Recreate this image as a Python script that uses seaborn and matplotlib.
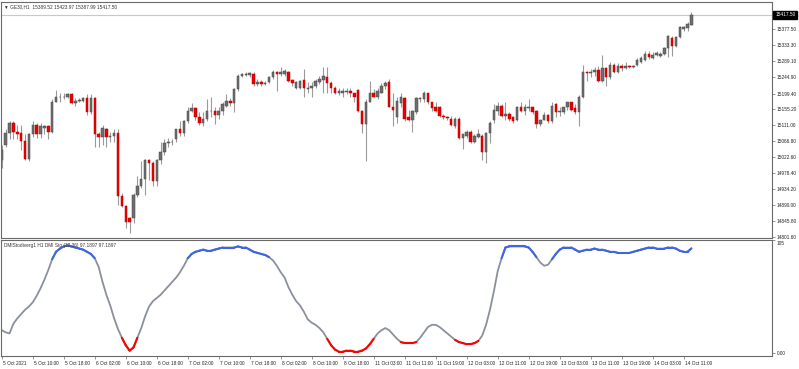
import numpy as np
import pandas as pd
import matplotlib
matplotlib.use("Agg")
import matplotlib.pyplot as plt
import matplotlib.transforms as mtrans
from matplotlib.collections import LineCollection
import seaborn as sns

# ---------------- data (GE30, H1) ----------------
opens = [15016, 15058, 15091, 15119, 15094, 15091, 15069, 15019, 15086, 15111,
         15088, 15105, 15108, 15094, 15177, 15189, 15189, 15191, 15197, 15172,
         15180, 15180, 15186, 15147, 15186, 15088, 15080, 15102, 15080, 15083,
         15091, 14916, 14888, 14855, 14855, 14919, 14944, 14963, 15016, 15008,
         14958, 15016, 15036, 15063, 15064, 15072, 15100, 15091, 15122, 15152,
         15158, 15133, 15119, 15130, 15150, 15152, 15141, 15152, 15166, 15180,
         15172, 15211, 15247, 15250, 15250, 15253, 15225, 15230, 15225, 15230,
         15244, 15258, 15253, 15253, 15258, 15236, 15216, 15216, 15236, 15211,
         15214, 15219, 15230, 15236, 15244, 15228, 15216, 15202, 15202, 15203,
         15205, 15200, 15208, 15150, 15116, 15177, 15202, 15191, 15202, 15219,
         15230, 15161, 15133, 15172, 15186, 15133, 15127, 15147, 15183, 15183,
         15200, 15175, 15163, 15163, 15138, 15133, 15130, 15108, 15130, 15075,
         15083, 15094, 15066, 15080, 15083, 15036, 15091, 15127, 15152, 15166,
         15136, 15144, 15133, 15127, 15163, 15152, 15158, 15161, 15150, 15116,
         15127, 15141, 15122, 15169, 15147, 15147, 15161, 15175, 15158, 15147,
         15191, 15258, 15255, 15258, 15264, 15233, 15269, 15244, 15278, 15258,
         15275, 15269, 15275, 15272, 15278, 15286, 15291, 15308, 15297, 15305,
         15303, 15308, 15325, 15353, 15330, 15355, 15378, 15380, 15389.52]
highs = [15058, 15100, 15122, 15122, 15111, 15111, 15086, 15091, 15122, 15119,
         15119, 15113, 15113, 15183, 15208, 15202, 15202, 15202, 15202, 15186,
         15186, 15191, 15197, 15197, 15189, 15094, 15113, 15105, 15094, 15100,
         15100, 14924, 14891, 14858, 14924, 14972, 15011, 15019, 15019, 15011,
         15019, 15066, 15072, 15077, 15072, 15102, 15122, 15127, 15163, 15172,
         15161, 15147, 15147, 15183, 15189, 15163, 15161, 15177, 15197, 15186,
         15214, 15253, 15255, 15258, 15258, 15258, 15239, 15236, 15233, 15247,
         15264, 15261, 15272, 15266, 15261, 15239, 15233, 15236, 15266, 15230,
         15230, 15239, 15247, 15272, 15272, 15233, 15219, 15214, 15216, 15216,
         15216, 15202, 15211, 15155, 15183, 15233, 15211, 15216, 15228, 15233,
         15239, 15202, 15189, 15202, 15189, 15155, 15155, 15189, 15191, 15205,
         15202, 15177, 15175, 15166, 15144, 15136, 15136, 15133, 15133, 15088,
         15097, 15097, 15086, 15100, 15086, 15094, 15122, 15169, 15175, 15169,
         15175, 15147, 15136, 15166, 15177, 15169, 15183, 15163, 15155, 15127,
         15147, 15144, 15177, 15172, 15163, 15163, 15177, 15177, 15169, 15194,
         15278, 15261, 15266, 15272, 15275, 15305, 15272, 15286, 15283, 15283,
         15280, 15286, 15278, 15278, 15297, 15303, 15316, 15316, 15314, 15316,
         15314, 15328, 15361, 15358, 15358, 15386, 15386, 15397, 15423.97]
lows = [14994, 15052, 15072, 15072, 15072, 15044, 15016, 15011, 15080, 15077,
        15077, 15086, 15072, 15091, 15175, 15177, 15183, 15186, 15169, 15166,
        15177, 15177, 15141, 15144, 15052, 15052, 15058, 15050, 15066, 15066,
        14891, 14886, 14827, 14813, 14841, 14913, 14938, 14919, 14961, 14944,
        14944, 15005, 15030, 15052, 15058, 15066, 15083, 15083, 15119, 15147,
        15127, 15111, 15108, 15122, 15133, 15116, 15130, 15141, 15163, 15166,
        15147, 15205, 15244, 15247, 15244, 15219, 15219, 15219, 15222, 15228,
        15239, 15205, 15247, 15247, 15230, 15219, 15211, 15211, 15189, 15202,
        15189, 15216, 15225, 15202, 15202, 15200, 15197, 15194, 15189, 15197,
        15191, 15177, 15147, 15091, 15013, 15175, 15189, 15183, 15200, 15211,
        15161, 15108, 15119, 15163, 15122, 15122, 15094, 15144, 15177, 15177,
        15169, 15150, 15147, 15133, 15130, 15127, 15108, 15105, 15072, 15047,
        15077, 15063, 15063, 15077, 15016, 15008, 15063, 15119, 15141, 15133,
        15127, 15122, 15119, 15122, 15147, 15141, 15150, 15144, 15105, 15108,
        15125, 15119, 15119, 15133, 15138, 15144, 15155, 15150, 15144, 15108,
        15186, 15233, 15244, 15247, 15230, 15230, 15219, 15239, 15255, 15255,
        15261, 15266, 15269, 15269, 15275, 15283, 15289, 15294, 15294, 15303,
        15300, 15305, 15300, 15303, 15328, 15353, 15372, 15372, 15387.99]
closes = [15044, 15091, 15119, 15094, 15088, 15069, 15019, 15086, 15113, 15088,
          15108, 15108, 15094, 15177, 15191, 15191, 15191, 15197, 15172, 15180,
          15181, 15186, 15147, 15186, 15088, 15080, 15105, 15080, 15083, 15091,
          14916, 14888, 14844, 14844, 14919, 14944, 14963, 15016, 15008, 14958,
          15016, 15036, 15063, 15066, 15066, 15100, 15091, 15122, 15152, 15158,
          15133, 15119, 15130, 15150, 15152, 15141, 15152, 15169, 15180, 15172,
          15211, 15247, 15253, 15253, 15255, 15225, 15230, 15225, 15228, 15244,
          15258, 15253, 15258, 15261, 15233, 15228, 15230, 15233, 15216, 15216,
          15219, 15233, 15239, 15247, 15228, 15216, 15202, 15205, 15205, 15206,
          15200, 15191, 15150, 15116, 15177, 15202, 15191, 15205, 15219, 15228,
          15163, 15155, 15180, 15189, 15130, 15127, 15150, 15186, 15186, 15200,
          15175, 15158, 15150, 15138, 15133, 15131, 15111, 15130, 15075, 15086,
          15094, 15066, 15083, 15086, 15036, 15091, 15119, 15155, 15166, 15136,
          15144, 15130, 15122, 15163, 15152, 15161, 15161, 15147, 15116, 15125,
          15141, 15122, 15166, 15147, 15152, 15161, 15175, 15155, 15147, 15191,
          15258, 15255, 15258, 15264, 15233, 15269, 15244, 15278, 15258, 15275,
          15269, 15275, 15272, 15275, 15291, 15297, 15308, 15300, 15305, 15311,
          15308, 15325, 15358, 15330, 15355, 15383, 15383, 15392, 15417.50]

dmi_sto = [21, 19, 18, 27, 32, 36, 40, 43, 47, 53, 60, 68, 77, 87, 94, 97, 99, 100, 99, 98,
           97, 96, 94, 92, 88, 80, 66, 54, 44, 32, 22, 14, 7, 2, 5, 14, 23, 34, 43, 48,
           51, 54, 58, 62, 66, 70, 75, 81, 88, 92, 94, 95, 96, 95, 95, 96, 97, 98, 98, 98,
           98, 99, 98, 98, 96, 94, 93, 92, 91, 89, 86, 81, 75, 70, 61, 54, 48, 44, 38, 31,
           28, 26, 23, 19, 13, 7, 3, 1, 1, 2, 2, 1, 1, 2, 4, 8, 13, 18, 21, 23,
           21, 17, 13, 10, 9, 9, 9, 10, 14, 19, 24, 26, 26, 24, 21, 18, 15, 12, 10, 9,
           8, 8, 9, 11, 16, 26, 40, 57, 76, 88, 98, 99, 99, 99, 99, 99, 98, 94, 89, 84,
           81, 82, 87, 92, 96, 98, 98, 98, 96, 94, 95, 96, 96, 97, 96, 96, 95, 94, 94, 93,
           93, 93, 93, 94, 95, 96, 97, 98, 98, 97, 97, 97, 98, 98, 97, 95, 94, 94, 97.1897]

price_ticks = [15377.50, 15333.30, 15289.10, 15244.90, 15199.40, 15155.20, 15111.00,
               15066.80, 15022.60, 14978.40, 14934.20, 14890.00, 14845.80, 14801.60]
time_tick_bars = [0, 8, 16, 24, 32, 40, 48, 56, 64, 72, 80, 88, 96, 104, 112, 120,
                  128, 136, 144, 152, 160, 168, 176]
time_tick_labels = ["5 Oct 2021", "5 Oct 10:00", "5 Oct 18:00", "6 Oct 02:00", "6 Oct 10:00",
                    "6 Oct 18:00", "7 Oct 02:00", "7 Oct 10:00", "7 Oct 18:00", "8 Oct 02:00",
                    "8 Oct 10:00", "8 Oct 18:00", "11 Oct 03:00", "11 Oct 11:00", "11 Oct 19:00",
                    "12 Oct 03:00", "12 Oct 11:00", "12 Oct 19:00", "13 Oct 03:00", "13 Oct 11:00",
                    "13 Oct 19:00", "14 Oct 03:00", "14 Oct 11:00"]
header_main = "GE30,H1  15389.52 15423.97 15387.99 15417.50"
header_ind = "DMIStodiverg1 H1 DMI Sto (32,36) 97.1897 97.1897"
last_price = 15417.50

# ---------------- style ----------------
sns.set_theme(style="white")
plt.rcParams['font.family'] = ['Liberation Sans', 'DejaVu Sans']
FS = 3.4
SPINE = '#6a6a6a'

W, H = 799, 369
fig = plt.figure(figsize=(W / 100, H / 100), dpi=100)
fig.patch.set_facecolor('white')


def rect(x0, y0, x1, y1):
    return [x0 / W, 1 - y1 / H, (x1 - x0) / W, (y1 - y0) / H]


ax = fig.add_axes(rect(1, 2, 772, 238))
ax2 = fig.add_axes(rect(1, 240, 772, 356), sharex=ax)

df = pd.DataFrame({"open": opens, "high": highs, "low": lows, "close": closes})
df["bar"] = np.arange(len(df))
df["bull"] = df["close"] >= df["open"]
df["lo"] = df[["open", "close"]].min(axis=1)
df["h"] = (df["close"] - df["open"]).abs().clip(lower=1.3)

# wicks
ax.vlines(df["bar"], df["low"], df["high"], color='#9a9a9a', lw=0.8, zorder=1)
bull = df[df["bull"]]
bear = df[~df["bull"]]
ax.bar(bull["bar"], bull["h"], bottom=bull["lo"], width=0.64, color='#6e6e6e',
       edgecolor='#484848', linewidth=0.35, zorder=2)
ax.bar(bear["bar"], bear["h"], bottom=bear["lo"], width=0.64, color='#e60000',
       edgecolor='#c00000', linewidth=0.35, zorder=2)

ax.axhline(last_price, color='#c8c8c8', lw=0.8, zorder=0)

ax.set_xlim(-0.2, 198.8)
ax.set_ylim(14799, 15453)
ax.yaxis.tick_right()
ax.set_yticks(price_ticks)
ax.set_yticklabels([f"{v:.2f}" for v in price_ticks])
ax.tick_params(axis='y', right=True, length=2, width=0.5, color=SPINE, pad=1.5,
               labelsize=FS, labelcolor='#222222')
ax.tick_params(axis='x', bottom=False, labelbottom=False)
ax.set_xlabel("")
ax.set_ylabel("")

ax.text(0.004, 0.979, "\u25bc " + header_main, transform=ax.transAxes, fontsize=FS,
        color='#333333', ha='left', va='center', family=['Liberation Sans', 'DejaVu Sans'])
blend = mtrans.blended_transform_factory(ax.transAxes, ax.transData)
ax.text(1.004, last_price, f"{last_price:.2f}", transform=blend, fontsize=FS, color='white',
        ha='left', va='center', clip_on=False,
        bbox=dict(boxstyle='square,pad=0.35', fc='black', ec='black'))

# ---------------- indicator ----------------
ind = pd.DataFrame({"bar": np.arange(len(dmi_sto)), "value": dmi_sto})
sns.lineplot(data=ind, x="bar", y="value", ax=ax2, color='#8a909c', lw=1.3, zorder=2)

pts = np.column_stack([ind["bar"].values, ind["value"].values])
segs, cols = [], []
for i in range(len(pts) - 1):
    m = (pts[i, 1] + pts[i + 1, 1]) / 2
    if m >= 89:
        segs.append(pts[i:i + 2]); cols.append('#3f66e0')
    elif m <= 11:
        segs.append(pts[i:i + 2]); cols.append('#ff0000')
lc = LineCollection(segs, colors=cols, linewidths=1.5, zorder=3, capstyle='round')
ax2.add_collection(lc)

ax2.set_ylim(-3, 105)
ax2.yaxis.tick_right()
ax2.set_yticks([0, 105])
ax2.set_yticklabels(["0.00", "105"])
ax2.tick_params(axis='y', right=True, length=2, width=0.5, color=SPINE, pad=1.5,
                labelsize=FS, labelcolor='#222222')
down = mtrans.ScaledTranslation(0, -1.0 / 100, fig.dpi_scale_trans)
top_lab = ax2.get_yticklabels()[1]
top_lab.set_va('top')
top_lab.set_transform(top_lab.get_transform() + down)
ax2.set_xticks(time_tick_bars)
ax2.set_xticklabels(time_tick_labels, ha='left')
ax2.tick_params(axis='x', bottom=True, length=2.5, width=0.5, color=SPINE, pad=1.2,
                labelsize=FS, labelcolor='#222222')
offset = mtrans.ScaledTranslation(1.5 / 100, 0, fig.dpi_scale_trans)
for lab in ax2.get_xticklabels():
    lab.set_transform(lab.get_transform() + offset)
ax2.set_xlabel("")
ax2.set_ylabel("")
ax2.text(0.004, 0.955, header_ind, transform=ax2.transAxes, fontsize=FS,
         color='#333333', ha='left', va='center')
if ax2.get_legend():
    ax2.get_legend().remove()

for a in (ax, ax2):
    a.set_facecolor('white')
    for s in a.spines.values():
        s.set_color(SPINE)
        s.set_linewidth(0.8)

fig.savefig("out.png", dpi=100, facecolor='white')
